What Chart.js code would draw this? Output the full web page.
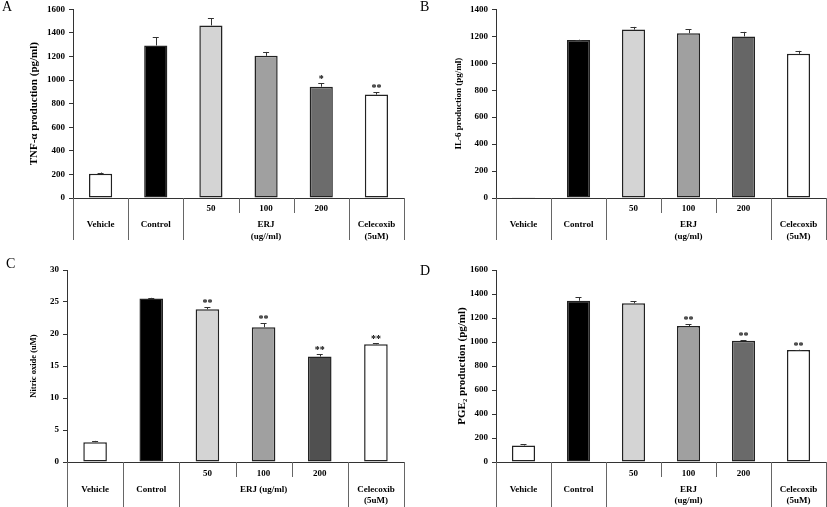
<!DOCTYPE html>
<html><head><meta charset="utf-8">
<script src="https://cdn.jsdelivr.net/npm/chart.js@4.4.1/dist/chart.umd.min.js"></script>
<style>
html,body{margin:0;padding:0;background:#fff;}
#wrap{position:relative;width:827px;height:507px;overflow:hidden;background:#fff;}
canvas{position:absolute;}
.lbl{position:absolute;font-family:"Liberation Serif","Times New Roman",serif;font-size:14px;color:#000;line-height:1;}
</style></head><body>
<div id="wrap">
<canvas id="cA" width="414" height="254" style="left:0;top:0"></canvas>
<canvas id="cB" width="413" height="254" style="left:414px;top:0"></canvas>
<canvas id="cC" width="414" height="253" style="left:0;top:254px"></canvas>
<canvas id="cD" width="413" height="253" style="left:414px;top:254px"></canvas>
<div class="lbl" style="left:2px;top:0px">A</div>
<div class="lbl" style="left:420px;top:0px">B</div>
<div class="lbl" style="left:6px;top:257px">C</div>
<div class="lbl" style="left:420px;top:264px">D</div>
</div>
<script>
// ---- data ----
const categories = ['Vehicle','Control','50','100','200','Celecoxib'];
const doseLabels = ['','','50','100','200',''];
const groupStart = [0,1,2,5];
const groupEnd   = [0,1,4,5];
const groupLabelsA = [['Vehicle'],['Control'],['ERJ','(ug//ml)'],['Celecoxib','(5uM)']];
const groupLabelsB = [['Vehicle'],['Control'],['ERJ','(ug/ml)'],['Celecoxib','(5uM)']];
const groupLabelsC = [['Vehicle'],['Control'],['ERJ (ug/ml)'],['Celecoxib','(5uM)']];
const groupLabelsD = [['Vehicle'],['Control'],['ERJ','(ug/ml)'],['Celecoxib','(5uM)']];

const tnfValues = [206, 1294, 1464, 1206, 944, 877];
const tnfErrors = [10, 70, 60, 33, 28, 22];
const tnfStars  = ['', '', '', '', '*', '**'];

const il6Values = [2, 1172, 1250, 1223, 1199, 1070];
const il6Errors = [0, 3, 20, 29, 34, 22];
const il6Stars  = ['', '', '', '', '', ''];

const noValues = [3.1, 25.53, 23.86, 21.05, 16.47, 18.4];
const noErrors = [0.2, 0.12, 0.3, 0.65, 0.35, 0.12];
const noStars  = ['', '', '**', '**', '**', '**'];

const pgeValues = [138, 1344, 1322, 1133, 1011, 933];
const pgeErrors = [12, 28, 16, 14, 3, 3];
const pgeStars  = ['', '', '', '**', '**', '**'];

// ---- styles ----
const SERIF = '"Liberation Serif","Times New Roman",serif';
function barColors(c200){ return ['#ffffff','#000000','#d4d4d4','#a0a0a0',c200,'#ffffff']; }

const tablePlugin = {
  id: 'tablePlugin',
  afterDraw(chart) {
    const o = chart.options.plugins.tablePlugin;
    const ctx = chart.ctx;
    const xs = chart.scales.x, ys = chart.scales.y;
    const ca = chart.chartArea;
    const meta = chart.getDatasetMeta(0);
    const n = categories.length;
    const centers = categories.map((c, i) => xs.getPixelForValue(i));
    const bounds = [];
    for (let i = 0; i <= n; i++) {
      if (i === 0) bounds.push(ca.left);
      else if (i === n) bounds.push(ca.right);
      else bounds.push((centers[i-1] + centers[i]) / 2);
    }
    const y0 = ca.bottom;
    ctx.save();
    // error bars
    ctx.strokeStyle = '#333';
    ctx.lineWidth = 1;
    o.values.forEach((v, i) => {
      const x = meta.data[i].x;
      const yb = ys.getPixelForValue(v);
      const yt = ys.getPixelForValue(v + o.errors[i]);
      if (o.errors[i] > 0) {
        ctx.beginPath();
        ctx.moveTo(Math.round(x) + 0.5, yb);
        ctx.lineTo(Math.round(x) + 0.5, yt);
        ctx.moveTo(x - 3, Math.round(yt) + 0.5);
        ctx.lineTo(x + 3, Math.round(yt) + 0.5);
        ctx.stroke();
      }
      if (o.stars[i]) {
        ctx.fillStyle = '#000';
        ctx.font = 'bold 10px ' + SERIF;
        ctx.textAlign = 'center';
        ctx.textBaseline = 'alphabetic';
        ctx.fillText(o.stars[i], x, yt - 1);
      }
    });
    // separators
    ctx.strokeStyle = '#666';
    ctx.lineWidth = 1;
    const longEnd = y0 + o.longLen, shortEnd = y0 + o.shortLen;
    for (let i = 0; i <= n; i++) {
      const isGroupEdge = i === 0 || i === n || groupStart.includes(i);
      ctx.beginPath();
      const x = Math.round(bounds[i]) + 0.5;
      ctx.moveTo(x, y0);
      ctx.lineTo(x, isGroupEdge ? longEnd : shortEnd);
      ctx.stroke();
    }
    // labels
    ctx.fillStyle = '#000';
    ctx.font = 'bold 9px ' + SERIF;
    ctx.textAlign = 'center';
    ctx.textBaseline = 'middle';
    doseLabels.forEach((d, i) => { if (d) ctx.fillText(d, centers[i], y0 + o.row1); });
    o.groups.forEach((lines, g) => {
      const cx = (centers[groupStart[g]] + centers[groupEnd[g]]) / 2;
      lines.forEach((t, k) => ctx.fillText(t, cx, y0 + (k === 0 ? o.row2 : o.row3)));
    });
    ctx.restore();
  }
};

function makePanel(id, values, errors, stars, groups, yMax, yStep, yTitle, titleSize, titleX, geo, c200, rows) {
  const cv = document.getElementById(id);
  const W = cv.width, H = cv.height;
  return new Chart(cv, {
    type: 'bar',
    data: {
      labels: categories,
      datasets: [{
        data: values,
        backgroundColor: barColors(c200),
        borderColor: '#222',
        borderWidth: 1.5,
        borderSkipped: false,
        barPercentage: 0.42,
        categoryPercentage: 1.0
      }]
    },
    options: {
      responsive: false,
      animation: false,
      devicePixelRatio: 1,
      layout: { padding: { top: geo.top, right: W - geo.right, left: 0, bottom: 0 } },
      plugins: {
        legend: { display: false },
        tooltip: { enabled: false },
        tablePlugin: Object.assign({ values, errors, stars, groups }, rows)
      },
      scales: {
        x: {
          offset: true,
          ticks: { display: false },
          grid: { display: false },
          border: { display: true, color: '#333', width: 1 },
          afterFit(s) { s.height = H - geo.bottom; }
        },
        y: {
          min: 0, max: yMax,
          ticks: { stepSize: yStep, color: '#000', padding: 4, font: { family: SERIF, size: 9, weight: 'bold' },
                   callback: v => String(v) },
          grid: { drawOnChartArea: false, drawTicks: true, tickLength: 4, color: '#333' },
          border: { display: true, color: '#333', width: 1 },
          title: {
            display: true, text: yTitle, color: '#000',
            font: { family: SERIF, size: titleSize, weight: 'bold' },
            padding: { top: titleX - titleSize * 0.6, bottom: 0 }
          },
          afterFit(s) { s.width = geo.left; }
        }
      }
    },
    plugins: [tablePlugin]
  });
}

const rowsTop = { row1: 11, row2: 27, row3: 39, shortLen: 15, longLen: 42 };
const rowsBot = { row1: 12, row2: 28, row3: 39, shortLen: 15, longLen: 46 };

makePanel('cA', tnfValues, tnfErrors, tnfStars, groupLabelsA, 1600, 200, 'TNF-α production (pg/ml)', 11, 34,
  { left: 73, right: 404, top: 6, bottom: 198 }, '#6c6c6c', rowsTop);
makePanel('cB', il6Values, il6Errors, il6Stars, groupLabelsB, 1400, 200, 'IL-6 production (pg/ml)', 9, 44.5,
  { left: 82, right: 412, top: 6, bottom: 198 }, '#666666', rowsTop);
makePanel('cC', noValues, noErrors, noStars, groupLabelsC, 30, 5, 'Nitric oxide (uM)', 8.5, 34,
  { left: 67, right: 404, top: 16, bottom: 208 }, '#505050', rowsBot);
makePanel('cD', pgeValues, pgeErrors, pgeStars, groupLabelsD, 1600, 200, 'PGE₂ production (pg/ml)', 11, 48,
  { left: 82, right: 412, top: 16, bottom: 208 }, '#6a6a6a', rowsBot);
</script>
</body></html>
